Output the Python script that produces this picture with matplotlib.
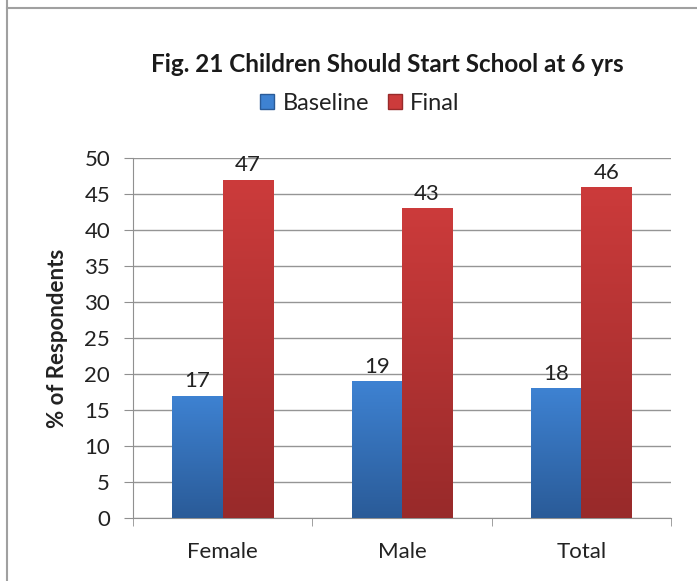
import matplotlib.pyplot as plt
import numpy as np
from matplotlib.lines import Line2D
from matplotlib.patches import Patch
from matplotlib.colors import LinearSegmentedColormap

plt.rcParams['font.family'] = ['Lato', 'DejaVu Sans']

categories = ["Female", "Male", "Total"]
baseline = [17, 19, 18]
final = [47, 43, 46]
yticks = list(range(0, 55, 5))

blue_top, blue_bot = "#3e82d2", "#2a5b98"
red_top, red_bot = "#cc3b3b", "#982a2a"

fig = plt.figure(figsize=(6.97, 5.81), dpi=100)
W, H = 697, 581
ax = fig.add_axes([133 / W, 1 - 518 / H, 538 / W, 360 / H])

x = np.arange(len(categories))
bw = 0.28
b1 = ax.bar(x - bw / 2, baseline, bw, color=blue_top, zorder=2)
b2 = ax.bar(x + bw / 2, final, bw, color=red_top, zorder=2)

# gradient fill over each bar
def shade(bars, top, bot):
    cmap = LinearSegmentedColormap.from_list("g", [bot, top])
    grad = np.linspace(0, 1, 256).reshape(-1, 1)
    for p in bars:
        x0, y0 = p.get_x(), p.get_y()
        w, h = p.get_width(), p.get_height()
        im = ax.imshow(grad, cmap=cmap, origin="lower", aspect="auto",
                       extent=[x0, x0 + w, y0, y0 + h], zorder=3)
        im.set_clip_path(p)

shade(b1, blue_top, blue_bot)
shade(b2, red_top, red_bot)

for bars, vals in [(b1, baseline), (b2, final)]:
    for p, v in zip(bars, vals):
        ax.annotate(str(v), (p.get_x() + p.get_width() / 2, v),
                    xytext=(0, 3), textcoords="offset points",
                    ha="center", va="bottom", fontsize=16, color="#222222",
                    zorder=4)

ax.set_xlim(-0.5, len(categories) - 0.5)
ax.set_ylim(0, 50)
ax.set_yticks(yticks)
ax.set_yticklabels([str(t) for t in yticks], fontsize=16, color="#222222")
ax.set_xticks(x)
ax.set_xticklabels(categories, fontsize=16, color="#222222")
ax.set_xticks(np.arange(-0.5, len(categories)), minor=True)
ax.tick_params(axis="x", which="major", length=0, pad=17)
ax.tick_params(axis="x", which="minor", length=6, color="#909090")
ax.tick_params(axis="y", length=6.5, color="#909090", pad=10)
ax.grid(axis="y", color="#959595", linewidth=1, zorder=0)
for s in ["top", "right"]:
    ax.spines[s].set_visible(False)
ax.spines["left"].set_color("#909090")
ax.spines["bottom"].set_color("#909090")
ax.set_ylabel("% of Respondents", fontsize=16, fontweight="bold",
              color="#222222")
ax.yaxis.set_label_coords(-(133 - 68) / 538, 0.5)

fig.text(387 / W, 1 - 65 / H, "Fig. 21 Children Should Start School at 6 yrs",
         ha="center", va="center", fontsize=17.5, fontweight="bold",
         color="#1a1a1a")

handles = [Patch(facecolor=blue_top, edgecolor=blue_bot),
           Patch(facecolor=red_top, edgecolor=red_bot)]
fig.legend(handles, ["Baseline", "Final"], loc="center",
           bbox_to_anchor=(360 / W, 1 - 103 / H), ncol=2, frameon=False,
           fontsize=17, handlelength=0.6, handleheight=0.6,
           handletextpad=0.35, columnspacing=0.8, labelcolor="#222222")

# outer frame lines
fig.add_artist(Line2D([7 / W, 7 / W], [0, 1], color="#a0a0a0", lw=1.5))
fig.add_artist(Line2D([7 / W, 1], [1 - 8 / H, 1 - 8 / H], color="#a0a0a0",
                      lw=1.5))

fig.savefig("out.png", dpi=100)
